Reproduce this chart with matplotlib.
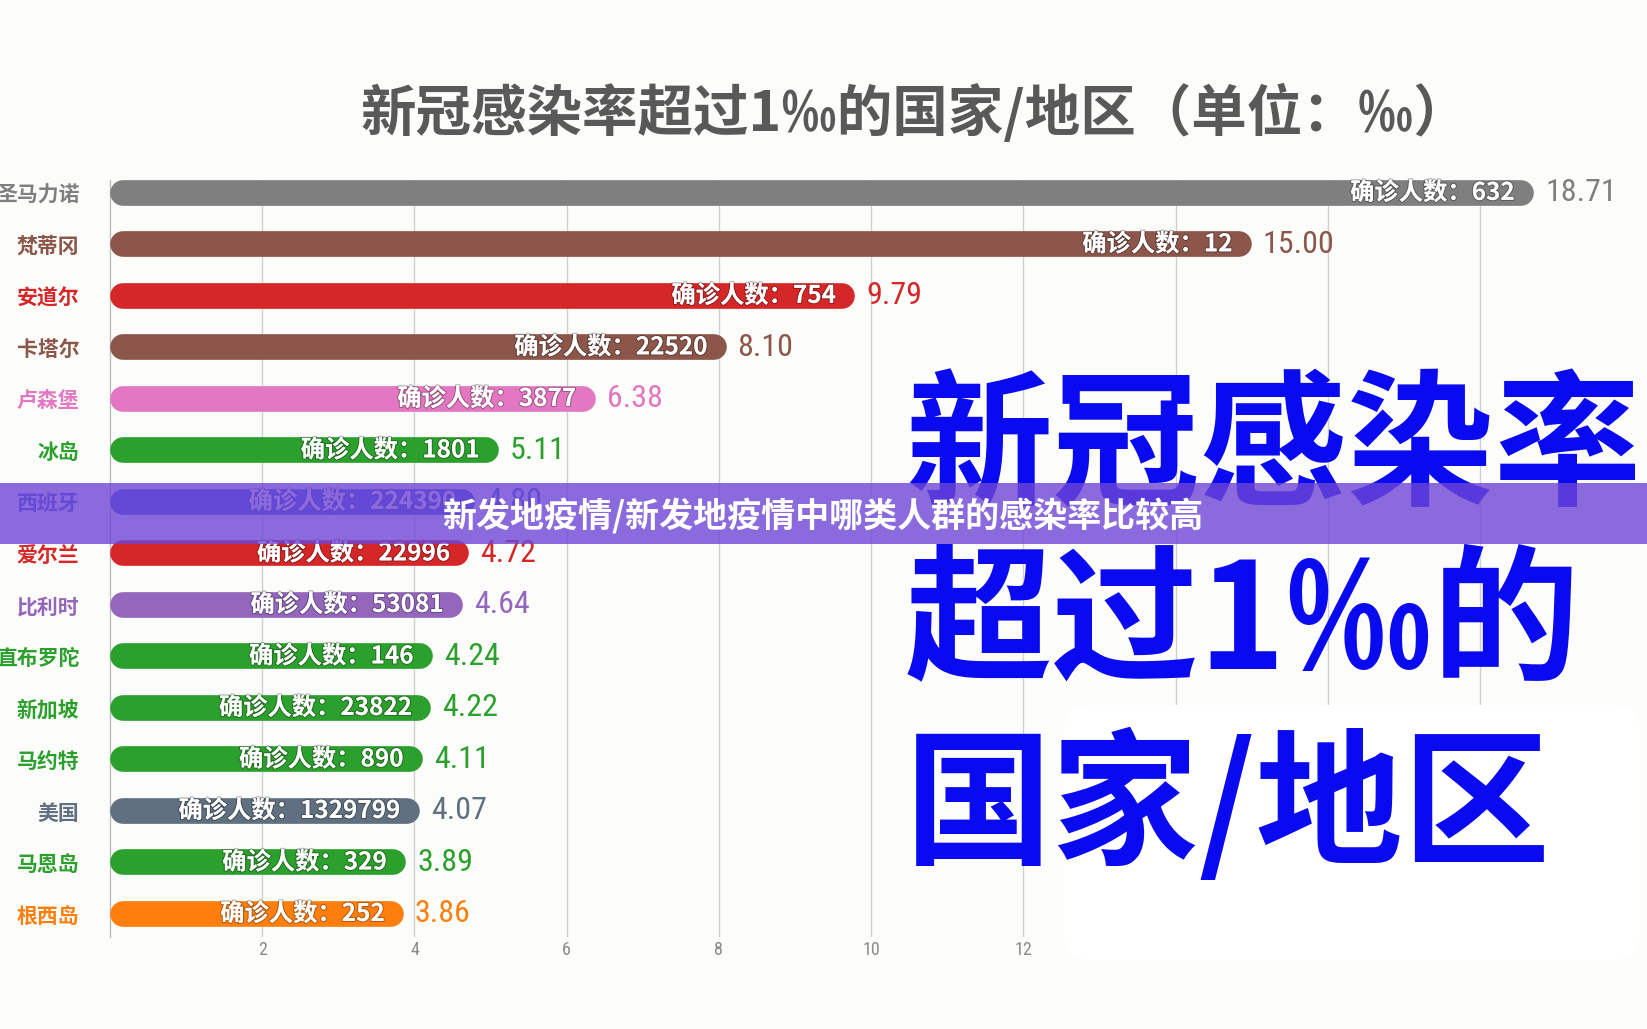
"""Horizontal pill-bar chart: countries with COVID infection rate above 1 per mille."""

import matplotlib

matplotlib.use("Agg")
import matplotlib.pyplot as plt
import matplotlib.patheffects as pe
from matplotlib import font_manager
from matplotlib.patches import FancyBboxPatch, Rectangle

plt.rcParams["font.family"] = ["Noto Sans CJK SC", "DejaVu Sans"]

countries = ["圣马力诺", "梵蒂冈", "安道尔", "卡塔尔", "卢森堡", "冰岛", "西班牙", "爱尔兰",
             "比利时", "直布罗陀", "新加坡", "马约特", "美国", "马恩岛", "根西岛"]
rates = [18.71, 15.00, 9.79, 8.10, 6.38, 5.11, 4.80, 4.72,
         4.64, 4.24, 4.22, 4.11, 4.07, 3.89, 3.86]
confirmed = [632, 12, 754, 22520, 3877, 1801, 224390, 22996,
             53081, 146, 23822, 890, 1329799, 329, 252]
bar_colors = ["#7f7f7f", "#8c564b", "#d62728", "#8c564b", "#e377c2", "#2ca02c", "#3a5bd9", "#d62728",
              "#9467bd", "#2ca02c", "#2ca02c", "#2ca02c", "#607080", "#2ca02c", "#ff7f0e"]
x_ticks = [2, 4, 6, 8, 10, 12, 14, 16, 18]

title = "新冠感染率超过1‰的国家/地区（单位：‰）"
banner = "新发地疫情/新发地疫情中哪类人群的感染率比较高"
big_lines = ["新冠感染率", "超过1‰的", "国家/地区"]


def _narrow_font():
    """Pick a condensed face if one is installed, else a plain one."""
    entries = font_manager.fontManager.ttflist
    names = {f.name for f in entries}
    for name in ["Roboto Condensed", "Liberation Sans Narrow", "Open Sans Condensed"]:
        if name in names:
            return {"family": name}, 1.0
    for f in entries:
        if f.name == "DejaVu Sans" and "condensed" in str(f.stretch).lower():
            return {"family": "DejaVu Sans", "stretch": "condensed"}, 0.9
    return {"family": "Noto Sans CJK SC"}, 0.84


NARROW, NARROW_SCALE = _narrow_font()

fig = plt.figure(figsize=(16.47, 10.29), dpi=100, facecolor="#fcfdfa")
ax = fig.add_axes([0.0668, 0.0894, 0.9057, 0.7357])
ax.set_facecolor("none")

ax.set_xlim(0, 19.6)
ax.set_ylim(len(countries) - 1 + 0.447, -0.25)

# pill bars: thick round-capped lines, shortened by the cap radius
lw_pt = 18.5
px_per_unit = 1491.6 / 19.6
r = (lw_pt / 72 * 100 / 2) / px_per_unit
ys = list(range(len(countries)))
ax.hlines(ys, [r] * len(rates), [v - r for v in rates], colors=bar_colors,
          linewidth=lw_pt, capstyle="round", zorder=3)

for i, (v, n, c) in enumerate(zip(rates, confirmed, bar_colors)):
    ax.annotate(f"确诊人数：{n}", xy=(v, i), xytext=(-14, 0), textcoords="offset points",
                ha="right", va="center", color="white", fontsize=17.5, fontweight="bold",
                zorder=4, path_effects=[pe.withStroke(linewidth=1.5, foreground=(0, 0, 0, 0.3))])
    ax.annotate(f"{v:.2f}", xy=(v, i), xytext=(8, 0), textcoords="offset points",
                ha="left", va="center", color=c, fontsize=23 * NARROW_SCALE, zorder=4, **NARROW)

ax.set_yticks(ys)
ax.set_yticklabels(countries, fontsize=15, fontweight="bold")
for lab, c in zip(ax.get_yticklabels(), bar_colors):
    lab.set_color(c)
ax.tick_params(axis="y", length=0, pad=22)

ax.set_xticks(x_ticks)
ax.set_xticklabels([str(t) for t in x_ticks], fontsize=13 * NARROW_SCALE, color="#8a8a8a", **NARROW)
ax.tick_params(axis="x", length=0, pad=3)
ax.grid(axis="x", color="#d0d0d0", linewidth=1)
ax.set_axisbelow(True)

for side in ["top", "right", "bottom"]:
    ax.spines[side].set_visible(False)
ax.spines["left"].set_color("#bbbbbb")
ax.spines["left"].set_linewidth(1)

fig.text(0.5555, 0.890, title, ha="center", va="center", fontsize=40,
         fontweight="bold", color="#595959")

# white card behind the big promo text
fig.patches.append(FancyBboxPatch((10.64, 0.69), 5.76, 2.55, boxstyle="round,pad=0,rounding_size=0.25",
                                  transform=fig.dpi_scale_trans, facecolor="white",
                                  edgecolor="none", zorder=1))

for line, yc in zip(big_lines, [0.5617, 0.3926, 0.2148]):
    fig.text(0.5495, yc, line, ha="left", va="center", fontsize=106, fontweight="bold",
             color="#0a0af0", zorder=1.5)

fig.patches.append(Rectangle((0, 1 - 544 / 1029), 1, 61 / 1029, transform=fig.transFigure,
                             facecolor="#6e45d6", alpha=0.8, edgecolor="none", zorder=2))
fig.text(0.4997, 1 - 516 / 1029, banner, ha="center", va="center", fontsize=24.5,
         fontweight="bold", color="white", zorder=3)

fig.savefig("out.png", dpi=100, facecolor=fig.get_facecolor())
